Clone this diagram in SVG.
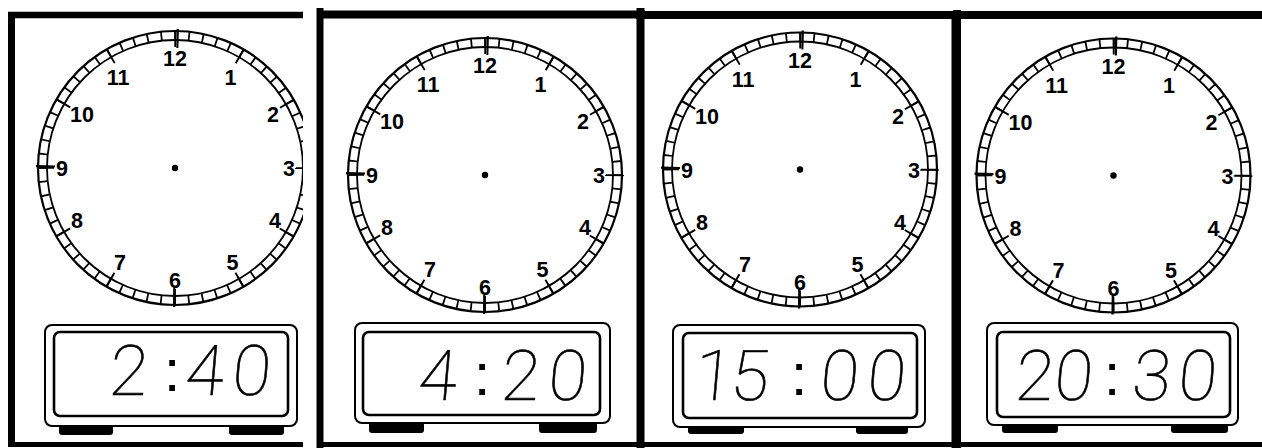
<svg xmlns="http://www.w3.org/2000/svg" xmlns:xlink="http://www.w3.org/1999/xlink" width="1262" height="448" viewBox="0 0 1262 448">
<style>
.frame{fill:none;stroke:#000;stroke-linecap:butt}
.ring-o{fill:#fff;stroke:#000;stroke-width:2.2}
.ring-i{fill:none;stroke:#000;stroke-width:1.8}
.min{fill:none;stroke:#000;stroke-width:9;stroke-dasharray:1.8 12.075;stroke-dashoffset:0.9}
.hr{fill:none;stroke:#000;stroke-width:16;stroke-dasharray:2 65.544;stroke-dashoffset:1}
.qt{fill:none;stroke:#000;stroke-width:19;stroke-dasharray:2.2 202.0;stroke-dashoffset:1.1}
.num{font-family:"Liberation Sans",Arial,sans-serif;font-weight:bold;font-size:21.5px;text-anchor:middle;fill:#000}
.box-o{fill:#fff;stroke:#000;stroke-width:2}
.box-i{fill:none;stroke:#000;stroke-width:2.6}
.foot{fill:#000}
.dig{font-family:Roboto,"Open Sans",Lato,"Liberation Sans",sans-serif;font-weight:100;font-size:70px;text-anchor:middle;fill:#000;stroke:#000;stroke-width:0.6}
.col{font-family:"Liberation Sans",Arial,sans-serif;font-size:60px;text-anchor:middle;fill:#000}
</style>
<defs>
<g id="ring">
<circle class="ring-o" r="137"/>
<circle class="ring-i" r="128"/>
<circle class="min" r="132.5"/>
<circle class="hr" r="129"/>
<circle class="qt" r="129.5"/>
<circle r="3.2" fill="#000"/>
</g>
<clipPath id="clip1"><rect x="0" y="0" width="303" height="448"/></clipPath>
</defs>
<rect width="1262" height="448" fill="#fff"/>

<g id="frames">
<path class="frame" stroke-width="7" d="M11.5 12V447"/>
<path class="frame" stroke-width="6.5" d="M8 15H303"/>
<path class="frame" stroke-width="5" d="M8 444.5H303"/>
<path class="frame" stroke-width="7" d="M320 8V448"/>
<path class="frame" stroke-width="8" d="M317 14.5H645"/>
<path class="frame" stroke-width="5" d="M317 444.5H640"/>
<path class="frame" stroke-width="8" d="M640.5 8V448"/>
<path class="frame" stroke-width="8" d="M636 15H961"/>
<path class="frame" stroke-width="2" d="M952.5 15V448"/>
<path class="frame" stroke-width="5" d="M636 444.5H955"/>
<path class="frame" stroke-width="8" d="M957 10V448"/>
<path class="frame" stroke-width="8" d="M953 15H1262"/>
<path class="frame" stroke-width="5" d="M953 444.5H1262"/>
</g>

<g id="panel1" clip-path="url(#clip1)">
<g id="clock1" transform="translate(175,168)">
<use xlink:href="#ring" href="#ring"/>
<text class="num" x="0" y="-102">12</text>
<text class="num" x="55.5" y="-83">1</text>
<text class="num" x="98" y="-46">2</text>
<text class="num" x="114" y="8">3</text>
<text class="num" x="100" y="60">4</text>
<text class="num" x="57.5" y="102">5</text>
<text class="num" x="0" y="120">6</text>
<text class="num" x="-55" y="102">7</text>
<text class="num" x="-98" y="60">8</text>
<text class="num" x="-113" y="8">9</text>
<text class="num" x="-93" y="-46">10</text>
<text class="num" x="-57" y="-83">11</text>
</g>
<g id="display1">
<rect class="foot" x="59" y="422" width="54" height="13" rx="3"/>
<rect class="foot" x="229" y="422" width="55" height="13" rx="3"/>
<rect class="box-o" x="45" y="325" width="252" height="101" rx="7"/>
<rect class="box-i" x="54" y="332" width="234" height="84" rx="6"/>
<g transform="translate(0,395) skewX(-5) translate(0,-395)">
<text class="dig" x="127" y="395">2</text>
<text class="dig" x="203" y="395">4</text>
<text class="dig" x="250" y="395">0</text>
</g>
<text class="col" x="172" y="391">:</text>
</g>
</g>

<g id="panel2">
<g id="clock2" transform="translate(485,175)">
<use xlink:href="#ring" href="#ring"/>
<text class="num" x="0" y="-102">12</text>
<text class="num" x="55.5" y="-83">1</text>
<text class="num" x="98" y="-46">2</text>
<text class="num" x="114" y="8">3</text>
<text class="num" x="100" y="60">4</text>
<text class="num" x="57.5" y="102">5</text>
<text class="num" x="0" y="120">6</text>
<text class="num" x="-55" y="102">7</text>
<text class="num" x="-98" y="60">8</text>
<text class="num" x="-113" y="8">9</text>
<text class="num" x="-93" y="-46">10</text>
<text class="num" x="-57" y="-83">11</text>
</g>
<g id="display2">
<rect class="foot" x="369" y="420" width="55" height="13" rx="3"/>
<rect class="foot" x="539" y="420" width="58" height="13" rx="3"/>
<rect class="box-o" x="355" y="323" width="255" height="100" rx="7"/>
<rect class="box-i" x="363" y="332" width="237" height="83" rx="6"/>
<g transform="translate(0,400) skewX(-5) translate(0,-400)">
<text class="dig" x="436" y="400">4</text>
<text class="dig" x="519" y="400">2</text>
<text class="dig" x="566" y="400">0</text>
</g>
<text class="col" x="482" y="395">:</text>
</g>
</g>

<g id="panel3">
<g id="clock3" transform="translate(800,169.5)">
<use xlink:href="#ring" href="#ring"/>
<text class="num" x="0" y="-102">12</text>
<text class="num" x="55.5" y="-83">1</text>
<text class="num" x="98" y="-46">2</text>
<text class="num" x="114" y="8">3</text>
<text class="num" x="100" y="60">4</text>
<text class="num" x="57.5" y="102">5</text>
<text class="num" x="0" y="120">6</text>
<text class="num" x="-55" y="102">7</text>
<text class="num" x="-98" y="60">8</text>
<text class="num" x="-113" y="8">9</text>
<text class="num" x="-93" y="-46">10</text>
<text class="num" x="-57" y="-83">11</text>
</g>
<g id="display3">
<rect class="foot" x="688" y="422" width="56" height="12" rx="3"/>
<rect class="foot" x="856" y="422" width="52" height="12" rx="3"/>
<rect class="box-o" x="673" y="325" width="252" height="102" rx="7"/>
<rect class="box-i" x="683" y="333" width="234" height="85" rx="6"/>
<g transform="translate(0,400) skewX(-5) translate(0,-400)">
<text class="dig" x="712" y="400">1</text>
<text class="dig" x="748" y="400">5</text>
<text class="dig" x="838" y="400">0</text>
<text class="dig" x="885" y="400">0</text>
</g>
<text class="col" x="799" y="395">:</text>
</g>
</g>

<g id="panel4">
<g id="clock4" transform="translate(1113.5,175.5)">
<use xlink:href="#ring" href="#ring"/>
<text class="num" x="0" y="-102">12</text>
<text class="num" x="55.5" y="-83">1</text>
<text class="num" x="98" y="-46">2</text>
<text class="num" x="114" y="8">3</text>
<text class="num" x="100" y="60">4</text>
<text class="num" x="57.5" y="102">5</text>
<text class="num" x="0" y="120">6</text>
<text class="num" x="-55" y="102">7</text>
<text class="num" x="-98" y="60">8</text>
<text class="num" x="-113" y="8">9</text>
<text class="num" x="-93" y="-46">10</text>
<text class="num" x="-57" y="-83">11</text>
</g>
<g id="display4">
<rect class="foot" x="1002" y="420" width="56" height="13" rx="3"/>
<rect class="foot" x="1171" y="420" width="57" height="13" rx="3"/>
<rect class="box-o" x="987" y="323" width="251" height="102" rx="7"/>
<rect class="box-i" x="997" y="332" width="233" height="85" rx="6"/>
<g transform="translate(0,400) skewX(-5) translate(0,-400)">
<text class="dig" x="1033" y="400">2</text>
<text class="dig" x="1072" y="400">0</text>
<text class="dig" x="1150" y="400">3</text>
<text class="dig" x="1196" y="400">0</text>
</g>
<text class="col" x="1112" y="395">:</text>
</g>
</g>
</svg>
